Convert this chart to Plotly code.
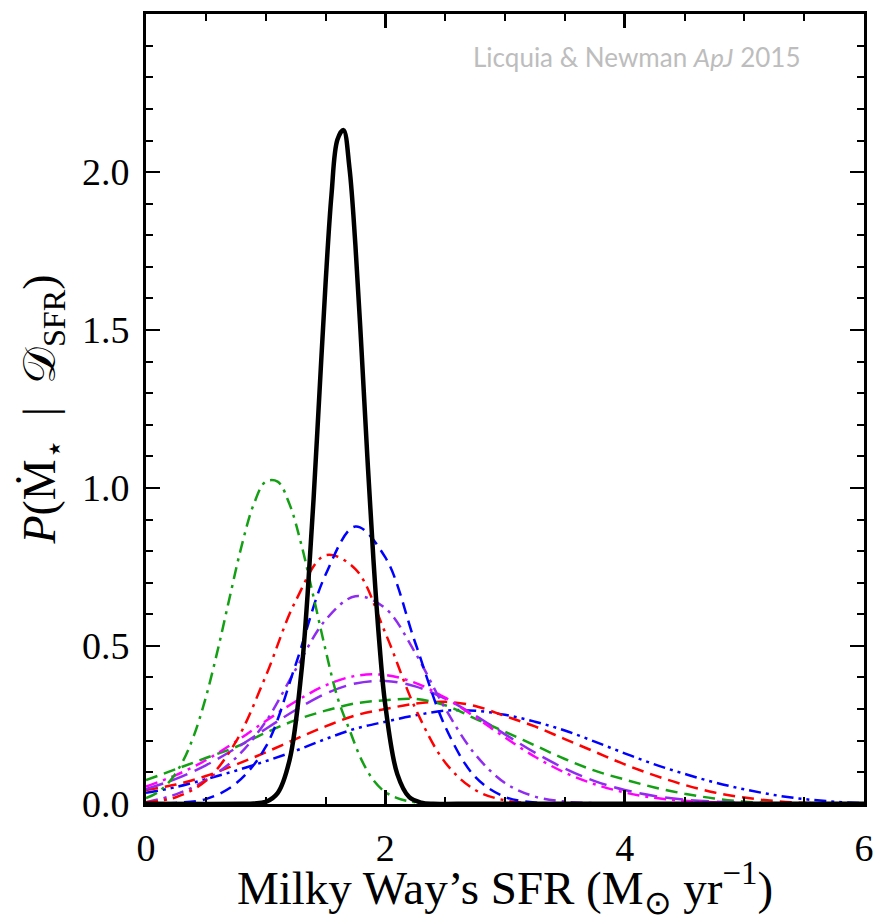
import plotly.graph_objects as go

# ---- data ----
x_broad = [0.0, 0.25, 0.5, 0.75, 1.0, 1.25, 1.5, 1.75, 2.0, 2.25, 2.5, 2.75, 3.0,
           3.25, 3.5, 3.75, 4.0, 4.25, 4.5, 4.75, 5.0, 5.25, 5.5, 5.75, 6.0]

blue_dashed = [0.0, 0.003, 0.015, 0.064, 0.18, 0.44, 0.725, 0.878, 0.78, 0.51, 0.245, 0.086, 0.022,
               0.004, 0.0, 0.0, 0.0, 0.0, 0.0, 0.0, 0.0, 0.0, 0.0, 0.0, 0.0]
red_dashdot = [0.005, 0.021, 0.073, 0.196, 0.404, 0.642, 0.787, 0.743, 0.541, 0.303, 0.131, 0.044, 0.011,
               0.002, 0.0, 0.0, 0.0, 0.0, 0.0, 0.0, 0.0, 0.0, 0.0, 0.0, 0.0]
purple_dashdot = [0.005, 0.03, 0.075, 0.145, 0.26, 0.425, 0.582, 0.657, 0.619, 0.478, 0.302, 0.157, 0.066,
                  0.023, 0.007, 0.002, 0.0, 0.0, 0.0, 0.0, 0.0, 0.0, 0.0, 0.0, 0.0]
magenta_dashdot = [0.055, 0.091, 0.138, 0.197, 0.262, 0.324, 0.375, 0.405, 0.408, 0.383, 0.336, 0.275, 0.210,
                   0.149, 0.099, 0.062, 0.036, 0.019, 0.010, 0.005, 0.002, 0.001, 0.0, 0.0, 0.0]
purple_longdash = [0.047, 0.079, 0.122, 0.176, 0.237, 0.297, 0.349, 0.381, 0.389, 0.372, 0.333, 0.280, 0.220,
                   0.162, 0.112, 0.072, 0.044, 0.025, 0.013, 0.007, 0.003, 0.001, 0.0, 0.0, 0.0]
green_dashed = [0.075, 0.11, 0.145, 0.18, 0.225, 0.265, 0.295, 0.318, 0.328, 0.332, 0.312, 0.27, 0.228,
                0.185, 0.142, 0.105, 0.077, 0.052, 0.032, 0.017, 0.007, 0.002, 0.0, 0.0, 0.0]
red_dashed = [0.044, 0.061, 0.088, 0.124, 0.163, 0.205, 0.245, 0.28, 0.30, 0.317, 0.323, 0.31, 0.278,
              0.245, 0.205, 0.165, 0.125, 0.09, 0.06, 0.036, 0.02, 0.009, 0.003, 0.001, 0.0]
blue_dashdotdot = [0.035, 0.053, 0.078, 0.105, 0.135, 0.168, 0.205, 0.238, 0.26, 0.28, 0.295, 0.295, 0.282,
                   0.26, 0.232, 0.197, 0.16, 0.125, 0.095, 0.068, 0.046, 0.028, 0.015, 0.007, 0.002]

x_green = [0.0, 0.1, 0.2, 0.3, 0.4, 0.5, 0.6, 0.7, 0.8, 0.9, 1.0, 1.1, 1.2, 1.3, 1.4, 1.5,
           1.6, 1.7, 1.8, 1.9, 2.0, 2.1, 2.2, 2.3, 2.4, 6.0]
green_dashdot = [0.018, 0.037, 0.072, 0.129, 0.216, 0.337, 0.488, 0.655, 0.818, 0.948, 1.02, 1.02, 0.948,
                 0.818, 0.655, 0.488, 0.337, 0.235, 0.14, 0.075, 0.037, 0.018, 0.008, 0.003, 0.001, 0.0]

x_black = [0.0, 0.8, 0.9, 1.0, 1.1, 1.2, 1.3, 1.35, 1.4, 1.45, 1.5, 1.55, 1.6, 1.65, 1.7, 1.75,
           1.8, 1.85, 1.9, 1.95, 2.0, 2.1, 2.2, 2.3, 2.4, 2.6, 6.0]
black_combined = [0.0, 0.0, 0.001, 0.006, 0.034, 0.139, 0.423, 0.661, 0.963, 1.305, 1.644, 1.928, 2.103,
                  2.133, 2.014, 1.768, 1.444, 1.097, 0.776, 0.510, 0.312, 0.094, 0.021, 0.004, 0.0, 0.0, 0.0]

x_tick_vals = [0, 2, 4, 6]
y_tick_vals = [0.0, 0.5, 1.0, 1.5, 2.0, 2.5]

GREEN = "#14a014"
RED = "#ff0000"
BLUE = "#0000ff"
PURPLE = "#8f2cf0"
MAGENTA = "#ff00ff"

DASH = "12px,7px"
DASHDOT = "12px,6px,3px,6px"
DASHDOTDOT = "12px,5px,3px,5px,3px,5px"
LONGDASH = "18px,8px"

series = [
    (x_broad, blue_dashdotdot, BLUE, DASHDOTDOT),
    (x_broad, red_dashed, RED, DASH),
    (x_broad, green_dashed, GREEN, DASH),
    (x_broad, purple_longdash, PURPLE, LONGDASH),
    (x_broad, magenta_dashdot, MAGENTA, DASHDOT),
    (x_broad, purple_dashdot, PURPLE, DASHDOT),
    (x_broad, red_dashdot, RED, DASHDOT),
    (x_broad, blue_dashed, BLUE, DASH),
    (x_green, green_dashdot, GREEN, DASHDOT),
]

fig = go.Figure()
for xs, ys, col, dash in series:
    fig.add_trace(go.Scatter(x=xs, y=ys, mode="lines",
                             line=dict(color=col, width=2.5, dash=dash, shape="spline"),
                             hoverinfo="skip"))
fig.add_trace(go.Scatter(x=x_black, y=black_combined, mode="lines",
                         line=dict(color="black", width=4.5, shape="spline"), hoverinfo="skip"))

serif = "Liberation Serif"
axis_common = dict(showline=True, linewidth=3, linecolor="black", mirror="ticks",
                   ticks="inside", ticklen=14, tickwidth=2.5, tickcolor="black",
                   showgrid=False, zeroline=False, automargin=False,
                   tickfont=dict(family=serif, size=38, color="black"))

fig.update_xaxes(range=[0, 6], tickvals=x_tick_vals, ticktext=[str(v) for v in x_tick_vals],
                 minor=dict(dtick=0.5, ticks="inside", ticklen=7, tickwidth=2, tickcolor="black", showgrid=False),
                 title=dict(text="Milky Way’s SFR (M<sub>⊙</sub> yr<sup>−1</sup>)",
                            font=dict(family=serif, size=47, color="black"), standoff=1),
                 ticklabelstandoff=8,
                 **axis_common)
fig.update_yaxes(range=[-0.0005, 2.5005], tickvals=y_tick_vals, tickformat=".1f",
                 minor=dict(dtick=0.1, ticks="inside", ticklen=7, tickwidth=2, tickcolor="black", showgrid=False),
                 title=dict(text="<i>P</i>(Ṁ<sub>⋆</sub>\u2002|\u2002𝒟<sub>SFR</sub>)",
                            font=dict(family=serif, size=46, color="black"), standoff=12),
                 ticklabelstandoff=6,
                 **axis_common)

fig.add_annotation(text="Licquia &amp; Newman <i>ApJ</i> 2015", xref="paper", yref="paper",
                   x=0.9136, y=0.9456, xanchor="right", yanchor="middle", showarrow=False,
                   font=dict(family="Lato", size=26, color="#bdbdbd"))

fig.update_layout(width=876, height=921, margin=dict(l=146, r=12, t=14, b=117),
                  plot_bgcolor="white", paper_bgcolor="white", showlegend=False)

# remove the page's default body margin so the figure fills the window exactly
fig.write_html("out.html", config={"displayModeBar": False, "staticPlot": True},
               post_script="document.body.style.margin='0px';document.body.style.overflow='hidden';")
